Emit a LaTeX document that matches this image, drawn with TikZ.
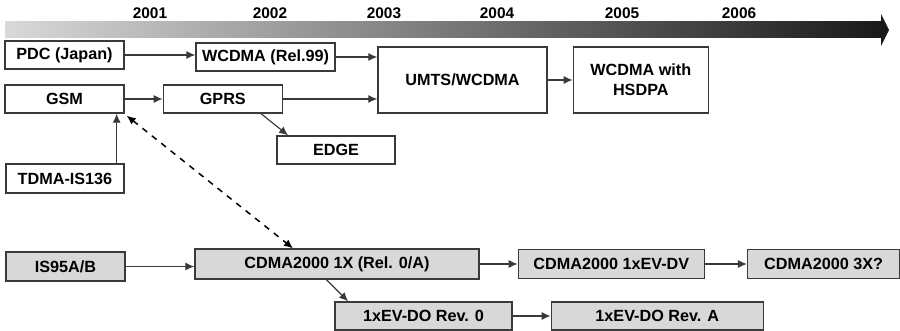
\documentclass[tikz,border=0pt]{standalone}
\usepackage{fontspec}
\setmainfont{Liberation Sans}
\usetikzlibrary{arrows.meta,positioning}
\definecolor{boxgray}{HTML}{D8D8D8}
\definecolor{linegray}{HTML}{3A3A3A}

\begin{document}
\begin{tikzpicture}[x=0.5pt,y=-0.5pt,
 font=\bfseries\fontsize{8.1}{10}\selectfont,
 tech/.style={draw=linegray,line width=0.65pt,inner sep=2pt,align=center,minimum height=14pt},
 cdma/.style={tech,fill=boxgray},
 flow/.style={-{Latex[length=4.5pt,width=4pt]},draw=linegray,line width=0.6pt},
 year/.style={font=\bfseries\fontsize{7.7}{8}\selectfont}]
\useasboundingbox (0,0) rectangle (900,331);
% time axis
\shade[left color=black!15,right color=black!90] (5,22) rectangle (882,38);
\fill[black!90] (881,14) -- (889,30) -- (881,46) -- cycle;
\node[year] (y2001) at (150,13) {2001};
\node[year] (y2002) at (270,13) {2002};
\node[year] (y2003) at (384,13) {2003};
\node[year] (y2004) at (497,13) {2004};
\node[year] (y2005) at (622,13) {2005};
\node[year] (y2006) at (739,13) {2006};
% GSM / WCDMA family
\node[tech,minimum width=59.5pt] (pdc) at (64.5,55) {PDC (Japan)};
\node[tech,minimum width=69.5pt] (wcdma) at (265.5,57) {WCDMA (Rel.99)};
\node[tech,minimum width=84.5pt,minimum height=33pt] (umts) at (462.5,80) {UMTS/WCDMA};
\node[tech,minimum width=67.5pt,minimum height=33pt,right=12.5pt of umts] (hsdpa) {WCDMA with\\HSDPA};
\node[tech,minimum width=59.5pt] (gsm) at (64.5,99) {GSM};
\node[tech,minimum width=59.5pt,right=19pt of gsm] (gprs) {GPRS};
\node[tech,minimum width=59pt] (edge) at (336,150) {EDGE};
\node[tech,minimum width=59pt,minimum height=14.5pt] (tdma) at (65,178.5) {TDMA-IS136};
% CDMA family
\node[cdma,minimum width=59.5pt,minimum height=14.5pt] (is95) at (65.5,266.5) {IS95A/B};
\node[cdma,minimum width=142pt,minimum height=15pt] (cdma1x) at (337,264) {CDMA2000 1X (Rel. 0/A)};
\node[cdma,minimum width=93pt,minimum height=14.5pt,right=19pt of cdma1x] (evdv) {CDMA2000 1xEV-DV};
\node[cdma,minimum width=76pt,minimum height=14.5pt,right=21pt of evdv] (cdma3x) {CDMA2000 3X?};
\node[cdma,minimum width=88.5pt] (rev0) at (423.5,316) {1xEV-DO Rev. 0};
\node[cdma,minimum width=106pt,right=19pt of rev0] (revA) {1xEV-DO Rev. A};
% connectors
\draw[flow] (pdc.east) -- (pdc.east -| wcdma.west);
\draw[flow] (wcdma.east) -- (wcdma.east -| umts.west);
\draw[flow] (gsm) -- (gprs);
\draw[flow] (gprs.east) -- (gprs.east -| umts.west);
\draw[flow] (umts) -- (hsdpa);
\draw[flow] (gprs.-21.5) -- (edge.163);
\draw[flow] ([xshift=-4pt]tdma.north east) -- ([xshift=-4pt]tdma.north east |- gsm.south);
\draw[flow,{Latex[length=4.5pt,width=4pt]}-{Latex[length=4.5pt,width=4pt]},dashed,line width=0.75pt,draw=black]
 ([shift={(1pt,-1pt)}]gsm.south east) -- ([xshift=-22pt]cdma1x.north);
\draw[flow] (is95.east) -- (is95.east -| cdma1x.west);
\draw[flow] (cdma1x) -- (evdv);
\draw[flow] (evdv) -- (cdma3x);
\draw[flow] (cdma1x.-124) -- (rev0.169);
\draw[flow] (rev0) -- (revA);
\end{tikzpicture}
\end{document}
